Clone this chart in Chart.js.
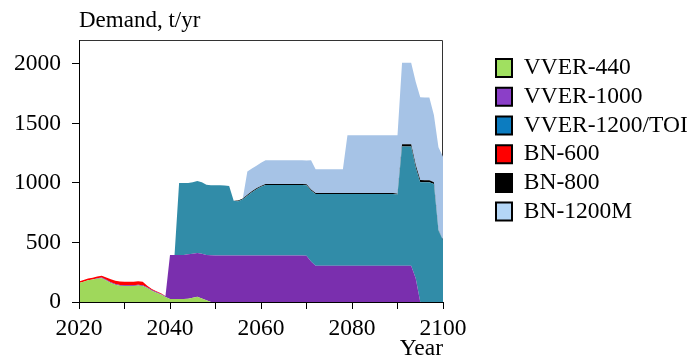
<!DOCTYPE html>
<html>
<head>
<meta charset="utf-8">
<script src="https://cdn.jsdelivr.net/npm/chart.js@4.4.1/dist/chart.umd.min.js"></script>
<style>
  html, body { margin: 0; padding: 0; background: #ffffff; }
  #wrap { width: 691px; height: 362px; }
</style>
</head>
<body>
<div id="wrap"><canvas id="demand" width="691" height="362"></canvas></div>
<script>
// Years on the horizontal axis
const years = [
  2020, 2021, 2022, 2023, 2024, 2025, 2026, 2027, 2028, 2029,
  2030, 2031, 2032, 2033, 2034, 2035, 2036, 2037, 2038, 2039,
  2040, 2041, 2042, 2043, 2044, 2045, 2046, 2047, 2048, 2049,
  2050, 2051, 2052, 2053, 2054, 2055, 2056, 2057, 2058, 2059,
  2060, 2061, 2062, 2063, 2064, 2065, 2066, 2067, 2068, 2069,
  2070, 2071, 2072, 2073, 2074, 2075, 2076, 2077, 2078, 2079,
  2080, 2081, 2082, 2083, 2084, 2085, 2086, 2087, 2088, 2089,
  2090, 2091, 2092, 2093, 2094, 2095, 2096, 2097, 2098, 2099,
  2100
];

// Annual demand per reactor type, t/yr (stacked)
const vver440 = [
  160, 170, 182, 188, 195, 200, 180, 160, 145, 137,
  135, 135, 135, 138, 135, 118, 95, 78, 62, 42,
  25, 25, 25, 25, 28, 35, 45, 30, 15, 0,
  0, 0, 0, 0, 0, 0, 0, 0, 0, 0,
  0, 0, 0, 0, 0, 0, 0, 0, 0, 0,
  0, 0, 0, 0, 0, 0, 0, 0, 0, 0,
  0, 0, 0, 0, 0, 0, 0, 0, 0, 0,
  0, 0, 0, 0, 0, 0, 0, 0, 0, 0,
  0
];
const vver1000 = [
  0, 0, 0, 0, 5, 5, 6, 6, 6, 6,
  6, 6, 6, 6, 6, 6, 6, 6, 6, 6,
  370, 370, 370, 370, 372, 370, 367, 375, 380, 393,
  390, 390, 390, 390, 390, 390, 390, 390, 390, 390,
  390, 390, 390, 390, 390, 390, 390, 390, 390, 390,
  388, 340, 305, 305, 305, 305, 305, 305, 305, 305,
  305, 305, 305, 305, 305, 305, 305, 305, 305, 305,
  305, 305, 305, 305, 200, 0, 0, 0, 0, 0,
  0
];
const vver1200 = [
  0, 0, 0, 0, 0, 0, 0, 0, 0, 0,
  0, 0, 0, 0, 0, 0, 0, 0, 0, 0,
  0, 0, 605, 605, 600, 600, 605, 600, 590, 587,
  590, 590, 588, 585, 460, 455, 472, 502, 532, 557,
  577, 592, 592, 592, 592, 592, 592, 592, 592, 592,
  592, 597, 602, 602, 602, 602, 602, 602, 602, 602,
  602, 602, 602, 602, 602, 602, 602, 602, 602, 602,
  597, 1000, 1000, 1000, 930, 1005, 1005, 1005, 990, 600,
  520
];
const bn600 = [
  12, 14, 15, 15, 15, 15, 20, 25, 28, 30,
  30, 30, 28, 30, 28, 12, 8, 6, 5, 3,
  0, 0, 0, 0, 0, 0, 0, 0, 0, 0,
  0, 0, 0, 0, 0, 0, 0, 0, 0, 0,
  0, 0, 0, 0, 0, 0, 0, 0, 0, 0,
  0, 0, 0, 0, 0, 0, 0, 0, 0, 0,
  0, 0, 0, 0, 0, 0, 0, 0, 0, 0,
  0, 0, 0, 0, 0, 0, 0, 0, 0, 0,
  0
];
const bn800 = [
  0, 0, 0, 0, 0, 0, 0, 0, 0, 0,
  0, 0, 0, 0, 0, 0, 0, 0, 0, 0,
  0, 0, 0, 0, 0, 0, 0, 0, 0, 0,
  0, 0, 0, 0, 0, 8, 8, 8, 8, 8,
  8, 8, 8, 8, 8, 8, 8, 8, 8, 8,
  8, 8, 8, 8, 8, 8, 8, 8, 8, 8,
  8, 8, 8, 8, 8, 8, 8, 8, 8, 8,
  8, 20, 20, 20, 20, 20, 18, 18, 15, 5,
  0
];
const bn1200m = [
  0, 0, 0, 0, 0, 0, 0, 0, 0, 0,
  0, 0, 0, 0, 0, 0, 0, 0, 0, 0,
  0, 0, 0, 0, 0, 0, 0, 0, 0, 0,
  0, 0, 0, 0, 0, 0, 0, 195, 190, 190,
  195, 200, 200, 200, 200, 200, 200, 200, 200, 200,
  200, 245, 200, 200, 200, 200, 200, 200, 200, 485,
  485, 485, 485, 485, 485, 485, 485, 485, 485, 485,
  490, 685, 685, 685, 700, 695, 695, 695, 565, 695,
  700
];

const seriesNames = ['VVER-440', 'VVER-1000', 'VVER-1200/TOI', 'BN-600', 'BN-800', 'BN-1200M'];
const seriesValues = [vver440, vver1000, vver1200, bn600, bn800, bn1200m];

// Axis tick labels
const xTickLabels = ['2020', '2040', '2060', '2080', '2100'];
const yTickValues = [0, 500, 1000, 1500, 2000];

// Fill colours in the plot and swatch colours in the legend
const areaColors = ['#9fd85b', '#7a2fae', '#318ca8', '#ff0000', '#000000', '#a6c3e6'];
const swatchColors = ['#a0e060', '#8b3fc8', '#0c7cc0', '#ff0000', '#000000', '#b4d6f6'];

const serif = "'Liberation Serif', 'Times New Roman', serif";

const datasets = seriesNames.map((name, i) => ({
  label: name,
  data: years.map((y, k) => ({ x: y, y: seriesValues[i][k] })),
  backgroundColor: areaColors[i],
  borderWidth: 0,
  pointRadius: 0,
  tension: 0,
  fill: i === 0 ? 'origin' : '-1',
  swatch: swatchColors[i]
}));

// Top and right edges of the plot frame, drawn underneath the areas
const framePlugin = {
  id: 'frame',
  beforeDatasetsDraw(chart) {
    const { ctx, chartArea: a } = chart;
    ctx.save();
    ctx.strokeStyle = '#333333';
    ctx.lineWidth = 1;
    ctx.beginPath();
    ctx.moveTo(a.left, a.top + 0.5);
    ctx.lineTo(a.right - 0.5, a.top + 0.5);
    ctx.lineTo(a.right - 0.5, a.bottom);
    ctx.stroke();
    ctx.restore();
  }
};

new Chart(document.getElementById('demand'), {
  type: 'line',
  data: { datasets },
  plugins: [framePlugin],
  options: {
    responsive: false,
    animation: false,
    devicePixelRatio: 1,
    events: [],
    layout: { padding: 0 },
    plugins: {
      tooltip: { enabled: false },
      title: {
        display: true,
        text: 'Demand, t/yr',
        align: 'start',
        position: 'top',
        fullSize: false,
        color: '#000',
        font: { family: serif, size: 23, weight: 'normal', lineHeight: 1 },
        padding: { top: 9.2, bottom: 7.8 }
      },
      legend: {
        display: true,
        position: 'right',
        align: 'start',
        maxWidth: 200.2,
        title: {
          display: true,
          text: '',
          font: { size: 11, lineHeight: 1 },
          padding: { top: 40.15, bottom: 0 }
        },
        labels: {
          boxWidth: 16,
          boxHeight: 18,
          padding: 5.2,
          color: '#000',
          font: { family: serif, size: 23.5, lineHeight: 1 },
          generateLabels(chart) {
            return chart.data.datasets.map((ds, i) => ({
              text: ds.label,
              fillStyle: ds.swatch,
              strokeStyle: '#000',
              lineWidth: 2,
              hidden: false,
              fontColor: '#000',
              datasetIndex: i
            }));
          }
        }
      }
    },
    scales: {
      x: {
        type: 'linear',
        min: 2020,
        max: 2100,
        afterFit(s) { s.height = 60; },
        ticks: {
          stepSize: 10,
          autoSkip: false,
          maxRotation: 0,
          padding: 8.45,
          color: '#000',
          font: { family: serif, size: 23.5, lineHeight: 1 },
          callback: (v) => xTickLabels.includes(String(v)) ? String(v) : ''
        },
        grid: { drawOnChartArea: false, drawTicks: true, tickLength: 7, color: '#000', lineWidth: 1 },
        border: { display: true, color: '#000', width: 1, z: 1 },
        title: {
          display: true,
          text: 'Year',
          align: 'end',
          color: '#000',
          font: { family: serif, size: 23.5, lineHeight: 1 },
          padding: { top: 0, bottom: 1.15 }
        }
      },
      y: {
        type: 'linear',
        stacked: true,
        min: 0,
        max: 2200,
        afterFit(s) { s.width = 79; },
        afterBuildTicks(s) { s.ticks = yTickValues.map(v => ({ value: v })); },
        ticks: {
          stepSize: 500,
          includeBounds: false,
          padding: 11,
          color: '#000',
          font: { family: serif, size: 23.5, lineHeight: 1 },
          callback: (v) => String(v)
        },
        grid: { drawOnChartArea: false, drawTicks: true, tickLength: 7, color: '#000', lineWidth: 1 },
        border: { display: true, color: '#000', width: 1, z: 1 }
      },
      gap: {
        type: 'linear',
        position: 'right',
        display: true,
        afterFit(s) { s.width = 47.8; },
        ticks: { display: false },
        grid: { display: false, drawTicks: false },
        border: { display: false }
      }
    }
  }
});
</script>
</body>
</html>
